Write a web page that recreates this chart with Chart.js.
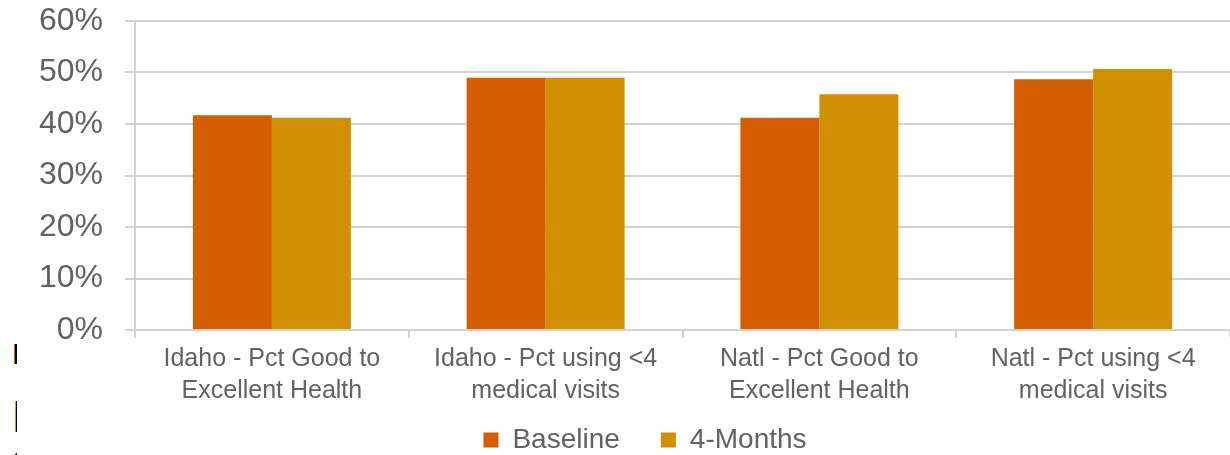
<!DOCTYPE html>
<html>
<head>
<meta charset="utf-8">
<script src="https://cdn.jsdelivr.net/npm/chart.js@4"></script>
<style>
  html, body { margin: 0; padding: 0; background: #fff; }
  #wrap { position: relative; width: 1230px; height: 455px; overflow: hidden; }
  canvas { position: absolute; left: 0; top: 0; }
  .frag { position: absolute; left: 12px; width: 5px; overflow: hidden; font-family: "Liberation Sans", Arial, sans-serif; color: #000; line-height: 1; }
</style>
</head>
<body>
<div id="wrap">
  <div class="frag" style="top:339px; font-size:30px">F</div>
  <div class="frag" style="top:395px; font-size:44px">N</div>
  <div class="frag" style="top:446px; font-size:30px">1</div>
  <canvas id="outcomes-chart" width="1230" height="455"></canvas>
</div>
<script>
const categories = [
  ['Idaho - Pct Good to', 'Excellent Health'],
  ['Idaho - Pct using <4', 'medical visits'],
  ['Natl - Pct Good to', 'Excellent Health'],
  ['Natl - Pct using <4', 'medical visits']
];
const baseline = [41.7, 49.0, 41.2, 48.7];
const fourMonths = [41.2, 49.0, 45.8, 50.7];
const yTicks = [0, 10, 20, 30, 40, 50, 60];

const textColor = '#626262';
const gridColor = '#d2d2d2';
const fontFamily = '"Liberation Sans", Arial, sans-serif';

const canvas = document.getElementById('outcomes-chart');

// legend sits a little higher and right of where chart.js centres it
const legendNudge = {
  id: 'legendNudge',
  afterLayout(chart) {
    const lg = chart.legend;
    if (!lg) return;
    lg.top -= 20;
    lg.left += 60;
    lg.height = lg.bottom - lg.top;
    lg.width = lg.right - lg.left;
  }
};

const chart = new Chart(canvas, {
  type: 'bar',
  data: {
    labels: categories,
    datasets: [
      { label: 'Baseline', data: baseline, backgroundColor: '#D55E00' },
      { label: '4-Months', data: fourMonths, backgroundColor: '#D09000' }
    ]
  },
  plugins: [legendNudge],
  options: {
    responsive: false,
    animation: false,
    devicePixelRatio: 1,
    categoryPercentage: 0.577,
    barPercentage: 1.0,
    layout: { padding: 0 },
    plugins: {
      tooltip: { enabled: false },
      legend: {
        position: 'bottom',
        maxHeight: 50,
        labels: {
          color: textColor,
          font: { family: fontFamily, size: 28 },
          boxWidth: 15,
          boxHeight: 15,
          padding: 41
        }
      }
    },
    scales: {
      x: {
        offset: true,
        afterFit: (axis) => { axis.height = 75; },
        border: { display: true, color: gridColor, width: 2 },
        grid: { offset: true, drawOnChartArea: false, drawTicks: true, tickLength: 8, color: gridColor, lineWidth: 2 },
        ticks: {
          color: textColor,
          font: { family: fontFamily, size: 25, lineHeight: 1.28 },
          padding: 5,
          maxRotation: 0
        }
      },
      y: {
        min: 0,
        max: 60,
        afterBuildTicks: (axis) => { axis.ticks = yTicks.map(v => ({ value: v })); },
        afterFit: (axis) => {
          axis.width = 135;
          axis.paddingTop = 21;
          axis.paddingBottom = 0;
        },
        border: { display: true, color: gridColor, width: 2 },
        grid: { color: gridColor, lineWidth: 2, tickLength: 10 },
        ticks: {
          color: textColor,
          font: { family: fontFamily, size: 32 },
          padding: 22,
          callback: (v) => v + '%'
        }
      }
    }
  }
});
</script>
</body>
</html>
